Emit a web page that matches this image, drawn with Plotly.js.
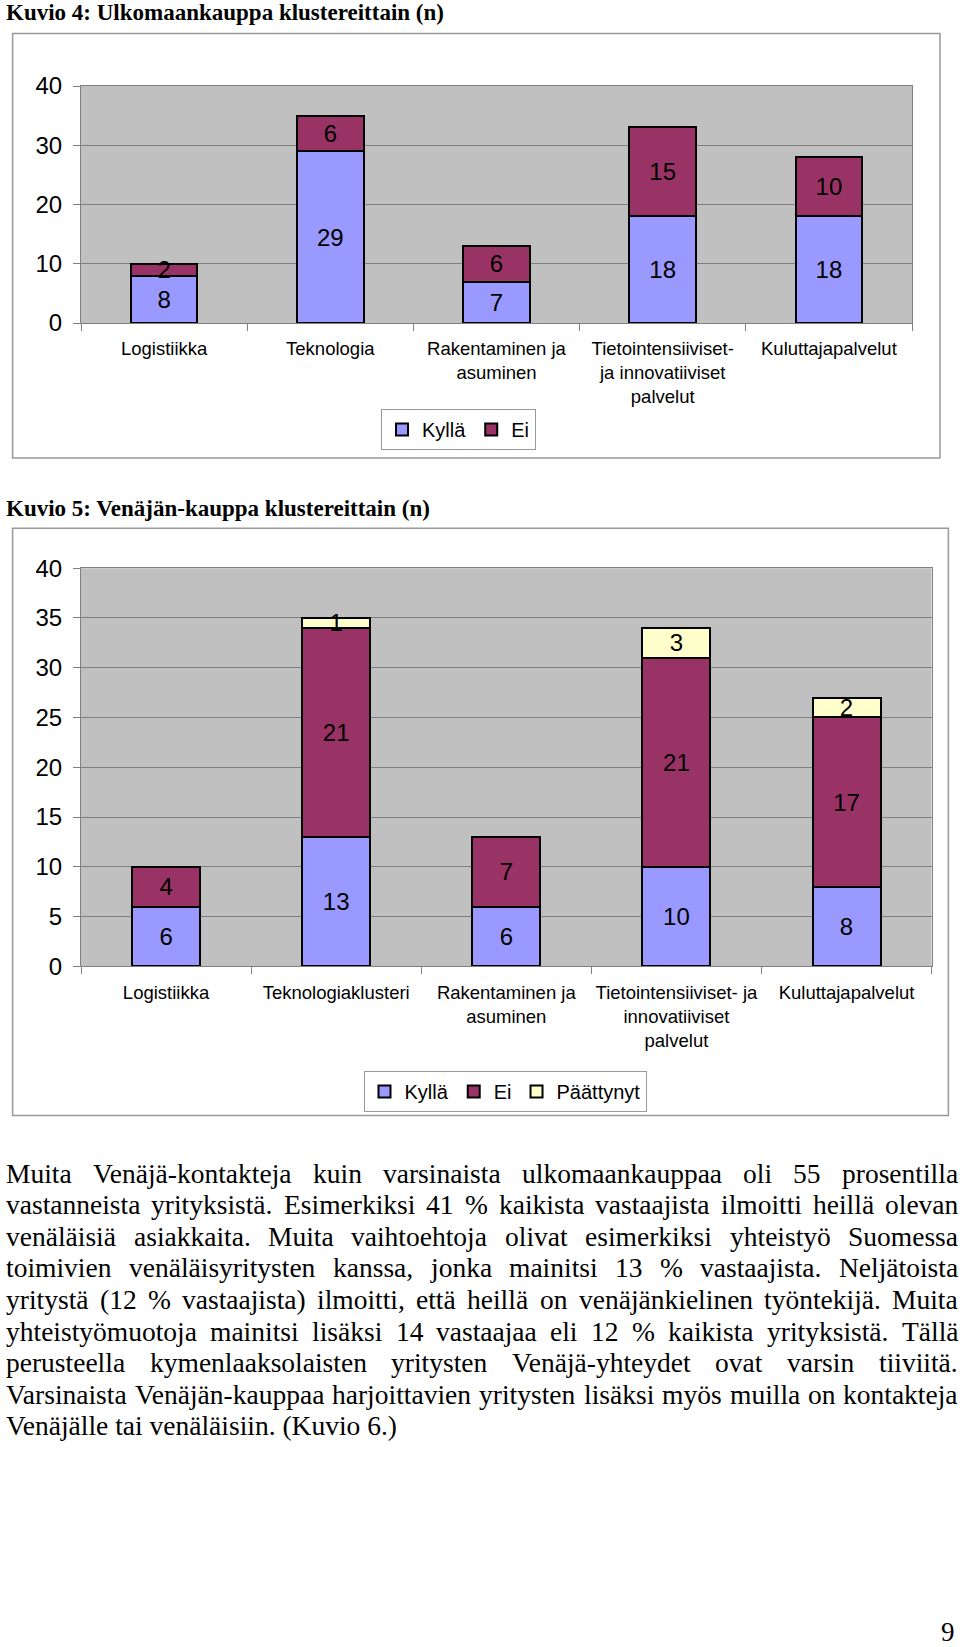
<!DOCTYPE html>
<html>
<head>
<meta charset="utf-8">
<script src="https://cdn.plot.ly/plotly-3.0.1.min.js"></script>
<style>
  body { margin: 0; background: #fff; }
  #page { width: 960px; height: 1647px; }
</style>
</head>
<body>
<div id="page"></div>
<script>
// Kuvio 4 data
var clusters4 = ['Logistiikka', 'Teknologia', 'Rakentaminen ja<br>asuminen',
    'Tietointensiiviset-<br>ja innovatiiviset<br>palvelut', 'Kuluttajapalvelut'];
var kylla4 = [8, 29, 7, 18, 18];
var ei4 = [2, 6, 6, 15, 10];

// Kuvio 5 data
var clusters5 = ['Logistiikka', 'Teknologiaklusteri', 'Rakentaminen ja<br>asuminen',
    'Tietointensiiviset- ja<br>innovatiiviset<br>palvelut', 'Kuluttajapalvelut'];
var kylla5 = [6, 13, 6, 10, 8];
var ei5 = [4, 21, 7, 21, 17];
var paattynyt5 = [null, 1, null, 3, 2];

var title4 = 'Kuvio 4: Ulkomaankauppa klustereittain (n)';
var title5 = 'Kuvio 5: Venäjän-kauppa klustereittain (n)';

var bodyLines = [
    'Muita Venäjä-kontakteja kuin varsinaista ulkomaankauppaa oli 55 prosentilla',
    'vastanneista yrityksistä. Esimerkiksi 41 % kaikista vastaajista ilmoitti heillä olevan',
    'venäläisiä asiakkaita. Muita vaihtoehtoja olivat esimerkiksi yhteistyö Suomessa',
    'toimivien venäläisyritysten kanssa, jonka mainitsi 13 % vastaajista. Neljätoista',
    'yritystä (12 % vastaajista) ilmoitti, että heillä on venäjänkielinen työntekijä. Muita',
    'yhteistyömuotoja mainitsi lisäksi 14 vastaajaa eli 12 % kaikista yrityksistä. Tällä',
    'perusteella kymenlaaksolaisten yritysten Venäjä-yhteydet ovat varsin tiiviitä.',
    'Varsinaista Venäjän-kauppaa harjoittavien yritysten lisäksi myös muilla on kontakteja',
    'Venäjälle tai venäläisiin. (Kuvio 6.)'
];
var pageNumber = '9';

var W = 960, H = 1647;
function px(x) { return x / W; }
function py(y) { return 1 - y / H; }

var sans = 'Liberation Sans, Arial, sans-serif';
var serif = 'Liberation Serif, Times New Roman, serif';

function labels(vals) {
    return vals.map(function (v) { return v ? String(v) : ''; });
}

function barTrace(name, x, y, color, xa, ya, leg) {
    return {
        type: 'bar',
        name: name,
        x: x,
        y: y,
        xaxis: xa,
        yaxis: ya,
        legend: leg,
        text: labels(y),
        textposition: 'inside',
        insidetextanchor: 'middle',
        textangle: 0,
        constraintext: 'none',
        insidetextfont: { family: sans, size: 24, color: '#000' },
        marker: { color: color, line: { color: '#000', width: 2 } },
        hoverinfo: 'skip'
    };
}

var data = [
    barTrace('Kyllä', clusters4, kylla4, '#9999FF', 'x', 'y', 'legend'),
    barTrace('Ei', clusters4, ei4, '#993366', 'x', 'y', 'legend'),
    barTrace('Kyllä', clusters5, kylla5, '#9999FF', 'x2', 'y2', 'legend2'),
    barTrace('Ei', clusters5, ei5, '#993366', 'x2', 'y2', 'legend2'),
    barTrace('Päättynyt', clusters5, paattynyt5, '#FFFFCC', 'x2', 'y2', 'legend2')
];

function xAxis(d, anchor) {
    return {
        domain: d,
        anchor: anchor,
        type: 'category',
        ticks: 'outside',
        tickson: 'boundaries',
        ticklen: 7,
        tickcolor: '#808080',
        tickangle: 0,
        ticklabelstandoff: 9,
        showline: true,
        linecolor: '#808080',
        mirror: true,
        showgrid: false,
        tickfont: { family: sans, size: 18.5, color: '#000' },
        fixedrange: true
    };
}

function yAxis(d, anchor, step) {
    return {
        domain: d,
        anchor: anchor,
        range: [0, 40],
        dtick: step,
        ticks: 'outside',
        ticklen: 7,
        tickcolor: '#808080',
        ticklabelstandoff: 6,
        showline: true,
        linecolor: '#808080',
        mirror: true,
        showgrid: true,
        gridcolor: '#808080',
        gridwidth: 1,
        zeroline: false,
        tickfont: { family: sans, size: 24, color: '#000' },
        fixedrange: true
    };
}

// paragraph: justified word by word
var bodySize = 27.5;
var canvas = document.createElement('canvas');
var ctx = canvas.getContext('2d');
ctx.font = bodySize + 'px "Liberation Serif"';
var textLeft = 5, textRight = 957, firstLineY = 1173, lineStep = 31.6;

var annotations = [
    { text: title4, x: px(4), y: py(12.5), xanchor: 'left', yanchor: 'middle' },
    { text: title5, x: px(4), y: py(508), xanchor: 'left', yanchor: 'middle' }
].map(function (a) {
    a.xref = 'paper'; a.yref = 'paper'; a.showarrow = false;
    a.font = { family: serif, size: 23, weight: 'bold', color: '#000' };
    return a;
});

bodyLines.forEach(function (line, i) {
    var yc = py(firstLineY + i * lineStep);
    var font = { family: serif, size: bodySize, color: '#000' };
    if (i === bodyLines.length - 1) {
        annotations.push({ xref: 'paper', yref: 'paper', x: px(textLeft), y: yc,
            xanchor: 'left', yanchor: 'middle', text: line, showarrow: false,
            font: font, borderpad: 0 });
        return;
    }
    var words = line.split(' ');
    var widths = words.map(function (w) { return ctx.measureText(w).width; });
    var total = widths.reduce(function (a, b) { return a + b; }, 0);
    var gap = (textRight - textLeft - total) / (words.length - 1);
    var cursor = textLeft;
    words.forEach(function (w, j) {
        annotations.push({ xref: 'paper', yref: 'paper', x: px(cursor), y: yc,
            xanchor: 'left', yanchor: 'middle', text: w, showarrow: false,
            font: font, borderpad: 0 });
        cursor += widths[j] + gap;
    });
});

annotations.push({ xref: 'paper', yref: 'paper', x: px(956), y: py(1632),
    xanchor: 'right', yanchor: 'middle', text: pageNumber, showarrow: false,
    font: { family: serif, size: 27, color: '#000' }, borderpad: 0 });

var legendBase = {
    orientation: 'h',
    xanchor: 'center',
    yanchor: 'middle',
    bgcolor: '#fff',
    bordercolor: '#999',
    borderwidth: 1,
    traceorder: 'normal',
    itemwidth: 30,
    font: { family: sans, size: 20, color: '#000' }
};

var layout = {
    width: W,
    height: H,
    margin: { l: 0, r: 0, t: 0, b: 0 },
    paper_bgcolor: '#fff',
    plot_bgcolor: '#C0C0C0',
    barmode: 'stack',
    bargap: 0.6,
    showlegend: true,
    xaxis: xAxis([px(81), px(912)], 'y'),
    yaxis: yAxis([py(323), py(86)], 'x', 10),
    xaxis2: xAxis([px(81), px(931.6)], 'y2'),
    yaxis2: yAxis([py(966.3), py(568.2)], 'x2', 5),
    legend: Object.assign({}, legendBase, { x: px(458.5), y: py(429.5) }),
    legend2: Object.assign({}, legendBase, { x: px(505), y: py(1091.5) }),
    shapes: [
        { type: 'rect', xref: 'paper', yref: 'paper', x0: px(12.6), x1: px(940),
          y0: py(458), y1: py(33.6), line: { color: '#999', width: 1.5 }, layer: 'below' },
        { type: 'rect', xref: 'paper', yref: 'paper', x0: px(12.6), x1: px(948.4),
          y0: py(1115.4), y1: py(528.3), line: { color: '#999', width: 1.5 }, layer: 'below' }
    ],
    annotations: annotations
};

Plotly.newPlot('page', data, layout, { displayModeBar: false, staticPlot: true });
</script>
</body>
</html>
